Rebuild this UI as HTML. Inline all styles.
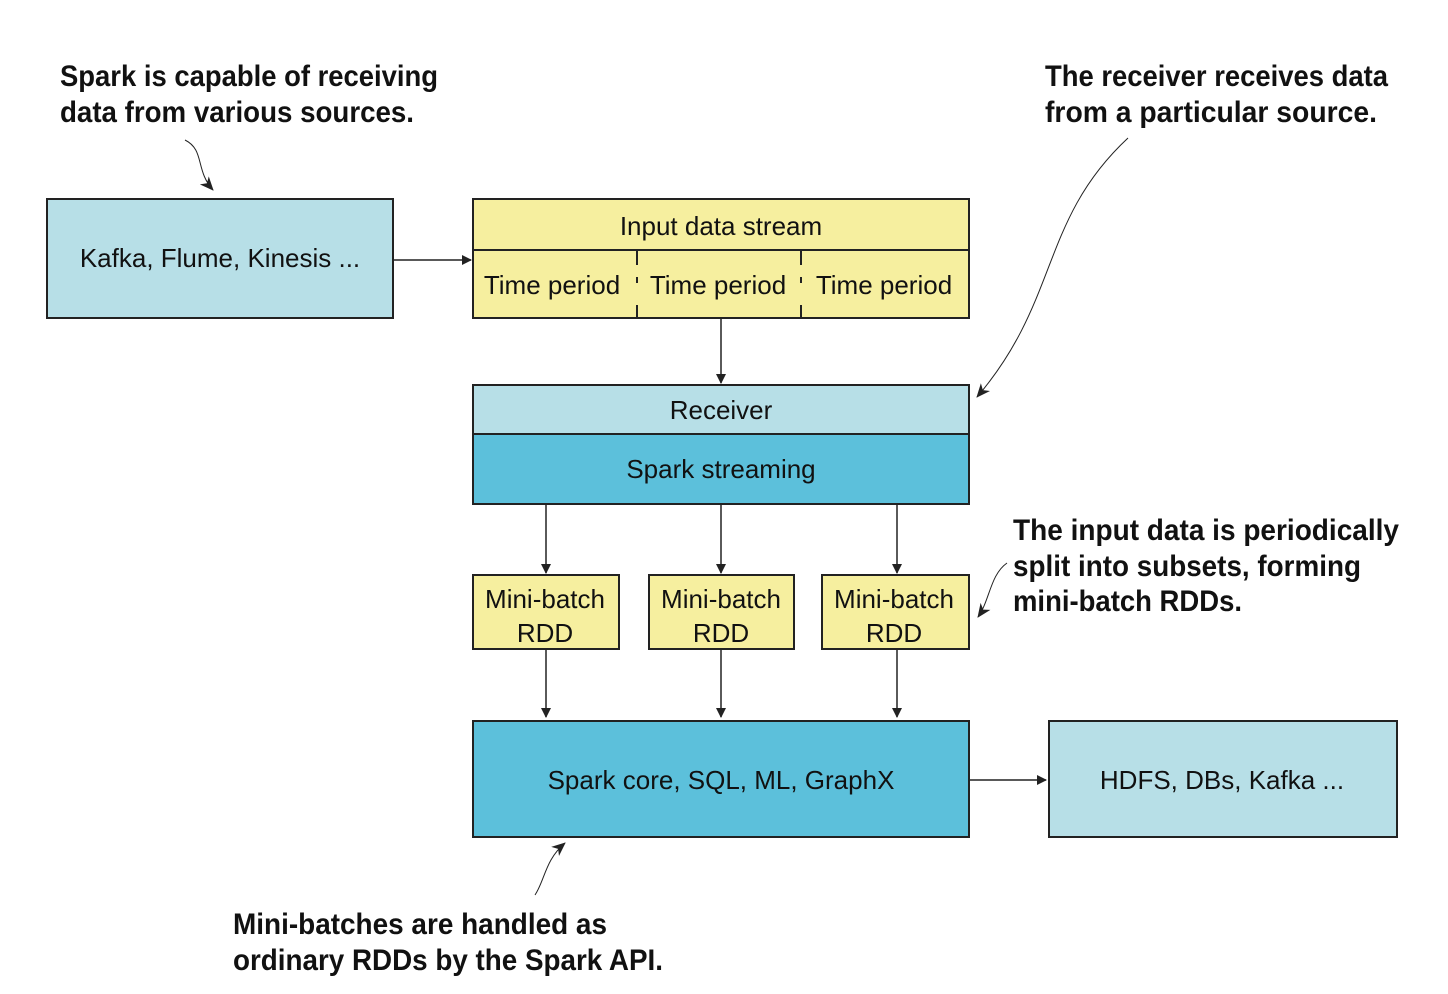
<!DOCTYPE html>
<html><head><style>body{margin:0;background:#fff}svg{display:block}</style></head><body>
<svg width="1448" height="994" viewBox="0 0 1448 994" xmlns="http://www.w3.org/2000/svg">
<defs><marker id="a" markerWidth="10" markerHeight="10" refX="9" refY="5" orient="auto" markerUnits="userSpaceOnUse"><path d="M0,0 L10,5 L0,10 z" fill="#222"/></marker>
<marker id="b" markerWidth="14" markerHeight="14" refX="13" refY="7" orient="auto" markerUnits="userSpaceOnUse"><path d="M0,1 L14,7 L0,13 L4,7 z" fill="#222"/></marker></defs>
<g stroke="#222" stroke-width="2" font-family="Liberation Sans, sans-serif" font-size="26" text-anchor="middle">
<rect x="47" y="199" width="346" height="119" fill="#b7dfe7"/>
<rect x="473" y="199" width="496" height="119" fill="#f6ef9f"/>
<line x1="473" y1="250" x2="969" y2="250"/>
<line x1="637" y1="250" x2="637" y2="318" stroke-dasharray="15,12,6,22,15"/>
<line x1="801" y1="250" x2="801" y2="318" stroke-dasharray="15,12,6,22,15"/>
<rect x="473" y="385" width="496" height="119" fill="#5cc0db"/>
<rect x="473" y="385" width="496" height="49" fill="#b7dfe7"/>
<rect x="473" y="575" width="146" height="74" fill="#f6ef9f"/>
<rect x="649" y="575" width="145" height="74" fill="#f6ef9f"/>
<rect x="822" y="575" width="147" height="74" fill="#f6ef9f"/>
<rect x="473" y="721" width="496" height="116" fill="#5cc0db"/>
<rect x="1049" y="721" width="348" height="116" fill="#b7dfe7"/>
<g marker-end="url(#a)" fill="none" stroke-width="1.5">
<line x1="393" y1="260" x2="471" y2="260"/>
<line x1="721" y1="318" x2="721" y2="383"/>
<line x1="546" y1="504" x2="546" y2="573"/>
<line x1="721" y1="504" x2="721" y2="573"/>
<line x1="897" y1="504" x2="897" y2="573"/>
<line x1="546" y1="649" x2="546" y2="717"/>
<line x1="721" y1="649" x2="721" y2="717"/>
<line x1="897" y1="649" x2="897" y2="717"/>
<line x1="969" y1="780" x2="1046" y2="780"/>
</g>
<g fill="none" stroke-width="1" marker-end="url(#b)">
<path d="M185,140 C205,150 195,170 213,190"/>
<path d="M1128,138 C1040,220 1060,300 977,397"/>
<path d="M1007,563 C990,575 990,600 978,617"/>
<path d="M535,895 C545,880 545,860 565,843"/>
</g>
<g stroke="none" fill="#111">
<text x="220" y="267">Kafka, Flume, Kinesis ...</text>
<text x="721" y="235">Input data stream</text>
<text x="552" y="294">Time period</text>
<text x="718" y="294">Time period</text>
<text x="884" y="294">Time period</text>
<text x="721" y="419">Receiver</text>
<text x="721" y="478">Spark streaming</text>
<text x="545" y="608">Mini-batch</text><text x="545" y="642">RDD</text>
<text x="721" y="608">Mini-batch</text><text x="721" y="642">RDD</text>
<text x="894" y="608">Mini-batch</text><text x="894" y="642">RDD</text>
<text x="721" y="789">Spark core, SQL, ML, GraphX</text>
<text x="1222" y="789">HDFS, DBs, Kafka ...</text>
</g>
<g stroke="none" fill="#111" text-anchor="start" font-family="Liberation Sans Narrow, Liberation Sans, sans-serif" font-weight="bold" font-size="30">
<text x="60" y="86" textLength="378" lengthAdjust="spacingAndGlyphs">Spark is capable of receiving</text>
<text x="60" y="122" textLength="354" lengthAdjust="spacingAndGlyphs">data from various sources.</text>
<text x="1045" y="86" textLength="343" lengthAdjust="spacingAndGlyphs">The receiver receives data</text>
<text x="1045" y="122" textLength="332" lengthAdjust="spacingAndGlyphs">from a particular source.</text>
<text x="1013" y="540" textLength="386" lengthAdjust="spacingAndGlyphs">The input data is periodically</text>
<text x="1013" y="576" textLength="348" lengthAdjust="spacingAndGlyphs">split into subsets, forming</text>
<text x="1013" y="611" textLength="229" lengthAdjust="spacingAndGlyphs">mini-batch RDDs.</text>
<text x="233" y="934" textLength="374" lengthAdjust="spacingAndGlyphs">Mini-batches are handled as</text>
<text x="233" y="970" textLength="430" lengthAdjust="spacingAndGlyphs">ordinary RDDs by the Spark API.</text>
</g>
</g>
</svg>
</body></html>
